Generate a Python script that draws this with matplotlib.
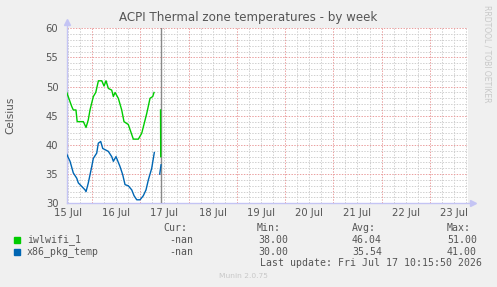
import matplotlib.pyplot as plt
import numpy as np

W, H = 497, 287

# time in days since 15 Jul 00:00, temperatures in Celsius
green_t = [0.474, 0.577, 0.61, 0.665, 0.69, 0.818, 0.874, 0.92, 0.956, 1.025,
           1.075, 1.13, 1.2, 1.247, 1.288, 1.336, 1.406, 1.44, 1.475, 1.543,
           1.613, 1.661, 1.75, 1.854, 1.958, 2.028, 2.132, 2.2, 2.256, 2.283,
           2.35, 2.418, 2.422]
green_v = [49, 46.6, 46, 46, 44, 44, 43, 44.3, 46, 48.3,
           49, 51, 51, 50.1, 51, 49.7, 49.4, 48.3, 49, 48,
           46, 44, 43.5, 41, 41, 42, 45.4, 48, 48.3, 49,
           np.nan, 46, 38]

blue_t = [0.474, 0.542, 0.61, 0.681, 0.714, 0.784, 0.853, 0.874, 0.921, 0.992,
          1.025, 1.095, 1.128, 1.178, 1.22, 1.267, 1.336, 1.406, 1.44, 1.495,
          1.578, 1.634, 1.682, 1.75, 1.821, 1.869, 1.925, 1.993, 2.061, 2.117,
          2.165, 2.235, 2.289, 2.35, 2.401, 2.428]
blue_v = [38.4, 37.2, 35.2, 34.3, 33.5, 32.9, 32.3, 32, 33.5, 36.3,
          37.7, 38.6, 40.3, 40.6, 39.4, 39.2, 38.9, 38, 37.2, 38,
          36.3, 34.9, 33.2, 33, 32.3, 31.3, 30.6, 30.6, 31.3, 32.3,
          34, 36, 38.7, np.nan, 35, 36.6]

day_labels = ['15 Jul', '16 Jul', '17 Jul', '18 Jul', '19 Jul',
              '20 Jul', '21 Jul', '22 Jul', '23 Jul']
now_t = 2.432

names = ['iwlwifi_1', 'x86_pkg_temp']
colors = ['#00cc00', '#0066b3']
cur = ['-nan', '-nan']
mins = ['38.00', '30.00']
avgs = ['46.04', '35.54']
maxs = ['51.00', '41.00']

x0, x1 = 0.473, 8.797

fig = plt.figure(figsize=(W / 100, H / 100), dpi=100, facecolor='#f0f0f0')
ax = fig.add_axes([66.7 / W, 1 - 203.3 / H, 401.6 / W, 175 / H])
ax.set_facecolor('white')
ax.set_xlim(x0, x1)
ax.set_ylim(30, 60)
for s in ax.spines.values():
    s.set_visible(False)

# minor grid
minor_c = '#d0d0d0'
major_c = '#eaa0a0'
dots = (0, (1.4, 1.4))
for v in range(31, 60):
    if v % 5:
        ax.axhline(v, color=minor_c, lw=0.72, ls=dots, zorder=0.5)
for t in np.arange(0.5, x1, 0.25):
    if t % 1:
        ax.axvline(t, color=minor_c, lw=0.72, ls=dots, zorder=0.5)
# major grid
for v in range(35, 61, 5):
    ax.axhline(v, color=major_c, lw=0.72, ls=dots, zorder=0.6)
for d in range(1, 9):
    ax.axvline(d, color=major_c, lw=0.72, ls=dots, zorder=0.6)

ax.set_yticks(range(30, 61, 5))
ax.set_xticks([])
ax.tick_params(axis='y', length=0, pad=6, labelsize=7.2, labelcolor='#555555')

for i, lab in enumerate(day_labels):
    ax.text(i + 0.5, -0.025, lab, transform=ax.get_xaxis_transform(),
            ha='center', va='top', fontsize=7.2, color='#555555')

# axis lines with arrows
axis_c = '#c4c4f4'
ax.plot([0, 0], [0, 1.03], transform=ax.transAxes, color=axis_c, lw=1,
        clip_on=False, zorder=3)
ax.plot([0], [1.035], transform=ax.transAxes, marker='^', ms=4.5, color=axis_c,
        clip_on=False, zorder=3)
ax.plot([0, 1.01], [0, 0], transform=ax.transAxes, color=axis_c, lw=1,
        clip_on=False, zorder=3)
ax.plot([1.012], [0], transform=ax.transAxes, marker='>', ms=4.5, color=axis_c,
        clip_on=False, zorder=3)

ax.axvline(now_t, color='#888888', lw=1, zorder=4)
ax.plot(green_t, green_v, color=colors[0], lw=1, zorder=5)
ax.plot(blue_t, blue_v, color=colors[1], lw=1, zorder=5)

def fx(x):
    return x / W

def fy(y):
    return 1 - y / H

fig.text(fx(248), fy(18), 'ACPI Thermal zone temperatures - by week',
         ha='center', va='center', fontsize=8.6, color='#555555')
fig.text(fx(10.5), fy(115), 'Celsius', rotation=90, ha='center', va='center',
         fontsize=7.5, color='#555555')
fig.text(fx(487.5), fy(5), 'RRDTOOL / TOBI OETIKER', rotation=-90,
         ha='center', va='top', fontsize=5.5, color='#c8c8c8')
fig.text(fx(243.5), fy(276), 'Munin 2.0.75', ha='center', va='center',
         fontsize=5.4, color='#c8c8c8')

mono = dict(family='DejaVu Sans Mono', fontsize=7.1, color='#555555', va='center')
fig.text(fx(163), fy(228), 'Cur:', **mono)
fig.text(fx(257), fy(228), 'Min:', **mono)
fig.text(fx(352), fy(228), 'Avg:', **mono)
fig.text(fx(447), fy(228), 'Max:', **mono)
for i, name in enumerate(names):
    y = 240 + i * 11.7
    fig.patches.append(plt.Rectangle((fx(14), fy(y + 3)), 6 / W, 6 / H,
                                     transform=fig.transFigure,
                                     color=colors[i]))
    fig.text(fx(27), fy(y), name, **mono)
    fig.text(fx(169), fy(y), cur[i], **mono)
    fig.text(fx(258), fy(y), mins[i], **mono)
    fig.text(fx(352), fy(y), avgs[i], **mono)
    fig.text(fx(447), fy(y), maxs[i], **mono)
fig.text(fx(482), fy(263.5), 'Last update: Fri Jul 17 10:15:50 2026',
         ha='right', **mono)

fig.savefig('out.png', dpi=100, facecolor=fig.get_facecolor())
